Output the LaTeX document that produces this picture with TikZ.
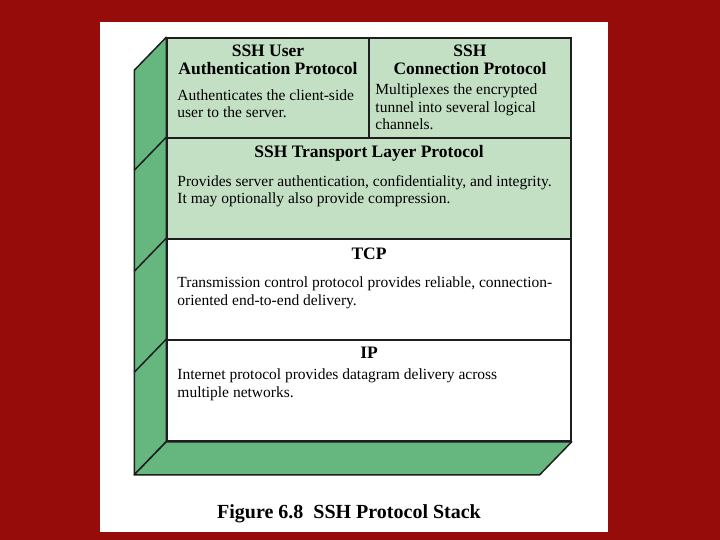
\documentclass[tikz,border=0pt]{standalone}
\usepackage{fontspec}
\setmainfont{Liberation Serif}
\usetikzlibrary{positioning}
\definecolor{slidered}{RGB}{150,12,10}
\definecolor{sidegreen}{RGB}{102,182,128}
\definecolor{layergreen}{RGB}{196,224,196}
\definecolor{edgegray}{RGB}{30,30,30}

\begin{document}
\begin{tikzpicture}[x=1pt, y=-1pt,
    layer/.style={rectangle, draw=edgegray, line width=1.5pt, minimum width=404pt, minimum height=101pt, inner sep=0pt},
    halflayer/.style={layer, minimum width=202pt, minimum height=100pt},
    title/.style={inner sep=0pt, align=center, font=\fontsize{17.5}{18}\selectfont\bfseries},
    desc/.style={inner sep=0pt, align=left, font=\fontsize{15.5}{17.5}\selectfont},
    side/.style={fill=sidegreen, draw=edgegray, line width=1.5pt, line join=round}
  ]
    \fill [slidered] (0,0) rectangle (720,540);
    \fill [white] (100,22) rectangle (608,532);

    \node (auth) [halflayer, fill=layergreen] at (268,88) {};
    \node (conn) [halflayer, fill=layergreen] at (470,88) {};
    \node (trans) [layer, fill=layergreen] at (369,188.5) {};
    \node (tcp) [layer, fill=white] at (369,289.5) {};
    \node (ip) [layer, fill=white] at (369,390.5) {};

    \path (auth.north west) ++(-32,33) coordinate (side_top);
    \path (ip.south west) ++(-32,33) coordinate (side_bottom);
    \path (ip.south east) ++(-32,33) coordinate (base_right);
    \draw [side] (auth.north west) -- (side_top) -- (side_bottom) -- (ip.south west) -- cycle;
    \draw [side] (ip.south west) -- (ip.south east) -- (base_right) -- (side_bottom) -- cycle;
    \draw [edgegray, line width=1.5pt] (trans.north west) -- ++(-32,33);
    \draw [edgegray, line width=1.5pt] (tcp.north west) -- ++(-32,33);
    \draw [edgegray, line width=1.5pt] (ip.north west) -- ++(-32,33);

    \node (auth_title) [title, below=7pt of auth.north] {SSH User\\Authentication Protocol};
    \node (auth_text) [desc, below right=52pt and 11pt of auth.north west] {Authenticates the client-side\\user to the server.};

    \node (conn_title) [title, below=7pt of conn.north] {SSH\\Connection Protocol};
    \node (conn_text) [desc, below right=46.5pt and 7pt of conn.north west] {Multiplexes the encrypted\\tunnel into several logical\\channels.};

    \node (trans_title) [title, below=8.4pt of trans.north] {SSH Transport Layer Protocol};
    \node (trans_text) [desc, below right=38pt and 11pt of trans.north west] {Provides server authentication, confidentiality, and integrity.\\It may optionally also provide compression.};

    \node (tcp_title) [title, below=9pt of tcp.north] {TCP};
    \node (tcp_text) [desc, below right=38.6pt and 11pt of tcp.north west] {Transmission control protocol provides reliable, connection-\\oriented end-to-end delivery.};

    \node (ip_title) [title, below=8pt of ip.north] {IP};
    \node (ip_text) [desc, below right=29.3pt and 11pt of ip.north west] {Internet protocol provides datagram delivery across\\multiple networks.};

    \node (caption) [inner sep=0pt, anchor=north, font=\fontsize{20}{24}\selectfont\bfseries] at (349,504.5) {Figure 6.8\ \ SSH Protocol Stack};
  \end{tikzpicture}
\end{document}
